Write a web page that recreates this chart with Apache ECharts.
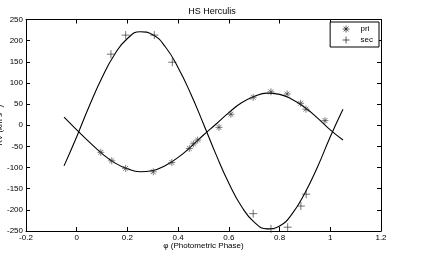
<!DOCTYPE html>
<html>
<head>
<meta charset="utf-8">
<script src="https://cdn.jsdelivr.net/npm/echarts@6/dist/echarts.min.js"></script>
<style>html,body{margin:0;padding:0;background:#fff;}#c{width:424px;height:261px;}</style>
</head>
<body>
<div id="c"></div>
<script>
// Observed radial velocities (phase, km/s)
const priPhase = [0.095, 0.138, 0.193, 0.302, 0.375, 0.444, 0.460, 0.477, 0.561, 0.608, 0.696, 0.766, 0.830, 0.883, 0.904, 0.979];
const priRV    = [-64, -84, -102, -110, -88, -55, -44, -35, -5, 26, 66, 79, 74, 52, 38, 11];
const secPhase = [0.135, 0.193, 0.306, 0.377, 0.696, 0.766, 0.832, 0.884, 0.905];
const secRV    = [168, 213, 213, 149, -209, -245, -241, -191, -163];
// Fitted curves (phase step 0.05)
const fitPhase = [-0.05, 0.00, 0.05, 0.10, 0.15, 0.20, 0.25, 0.30, 0.35, 0.40, 0.45, 0.50, 0.55, 0.60, 0.65, 0.70, 0.75, 0.80, 0.85, 0.90, 0.95, 1.00, 1.05];
const fitSec   = [-96, -27, 46, 113, 168, 205, 221, 214, 185, 136, 74, 3, -70, -137, -192, -229, -245, -238, -209, -160, -98, -27, 38];
const fitPri   = [19, -11, -40, -67, -89, -103, -110, -107, -95, -76, -51, -23, 3, 30, 53, 68, 76, 73, 61, 42, 17, -11, -35];
const xTicks = [-0.2, 0, 0.2, 0.4, 0.6, 0.8, 1, 1.2];
const yTicks = [-250, -200, -150, -100, -50, 0, 50, 100, 150, 200, 250];

const FONT = "'Liberation Sans', Arial, Helvetica, sans-serif";
const plusPath = 'path://M0,5L10,5M5,0L5,10';
const starPath = 'path://M5,0L5,10M0,5L10,5M1.5,1.5L8.5,8.5M8.5,1.5L1.5,8.5';

const pairs = (xs, ys) => xs.map((x, i) => [x, ys[i]]);
const fmt = v => String(v);

const chart = echarts.init(document.getElementById('c'), null, {renderer: 'canvas'});
const axisCommon = {
  type: 'value',
  axisLine: {show: true, onZero: false, lineStyle: {color: '#000', width: 1}},
  axisTick: {show: true, inside: true, length: 4, lineStyle: {color: '#000', width: 1}},
  splitLine: {show: false},
};
chart.setOption({
  animation: false,
  backgroundColor: '#fff',
  title: {
    text: 'HS Herculis', left: 'center', top: 2,
    textStyle: {fontFamily: FONT, fontSize: 9, fontWeight: 'normal', color: '#000'}
  },
  grid: {left: 26, right: 43, top: 19.5, bottom: 30, containLabel: false, outerBoundsMode: 'none'},
  legend: {
    data: [
      {name: 'pri', icon: starPath},
      {name: 'sec', icon: plusPath}
    ],
    orient: 'vertical', right: 45, top: 22,
    itemWidth: 7, itemHeight: 7, itemGap: 3,
    padding: [3, 6, 3, 12],
    borderColor: '#000', borderWidth: 1, backgroundColor: '#fff',
    textStyle: {fontFamily: FONT, fontSize: 8, color: '#000', padding: [0, 0, 0, 6]},
    itemStyle: {color: 'transparent', borderColor: '#000', borderWidth: 0.8}
  },
  xAxis: [
    Object.assign({}, axisCommon, {
      min: -0.2, max: 1.2, interval: 0.2, position: 'bottom',
      name: 'φ (Photometric Phase)', nameLocation: 'middle', nameGap: 11, nameMoveOverlap: false,
      nameTextStyle: {fontFamily: FONT, fontSize: 8, color: '#000'},
      axisLabel: {show: true, margin: 3, fontFamily: FONT, fontSize: 8, color: '#000',
        formatter: v => { const t = xTicks.find(k => Math.abs(k - v) < 1e-9); return t === undefined ? '' : fmt(t); }}
    }),
    Object.assign({}, axisCommon, {
      min: -0.2, max: 1.2, interval: 0.2, position: 'top', axisLabel: {show: false}
    })
  ],
  yAxis: [
    Object.assign({}, axisCommon, {
      min: -250, max: 250, interval: 50, position: 'left',
      name: 'RV (km s⁻¹)', nameLocation: 'middle', nameGap: 26, nameMoveOverlap: false,
      nameTextStyle: {fontFamily: FONT, fontSize: 8, color: '#000', align: 'center', verticalAlign: 'middle'},
      axisLabel: {show: true, margin: 3, fontFamily: FONT, fontSize: 8, color: '#000',
        formatter: v => { const t = yTicks.find(k => k === v); return t === undefined ? '' : fmt(t); }}
    }),
    Object.assign({}, axisCommon, {
      min: -250, max: 250, interval: 50, position: 'right', axisLabel: {show: false}
    })
  ],
  series: [
    {
      type: 'line', name: 'fitSec', data: pairs(fitPhase, fitSec), smooth: 0.5,
      showSymbol: false, lineStyle: {color: '#000', width: 1.1}, silent: true, z: 2
    },
    {
      type: 'line', name: 'fitPri', data: pairs(fitPhase, fitPri), smooth: 0.5,
      showSymbol: false, lineStyle: {color: '#000', width: 1.1}, silent: true, z: 2
    },
    {
      type: 'scatter', name: 'pri', data: pairs(priPhase, priRV),
      symbol: starPath, symbolSize: 7,
      itemStyle: {color: 'transparent', borderColor: '#333', borderWidth: 0.8}, z: 3
    },
    {
      type: 'scatter', name: 'sec', data: pairs(secPhase, secRV),
      symbol: plusPath, symbolSize: 8,
      itemStyle: {color: 'transparent', borderColor: '#222', borderWidth: 0.8}, z: 3
    }
  ]
});
</script>
</body>
</html>
